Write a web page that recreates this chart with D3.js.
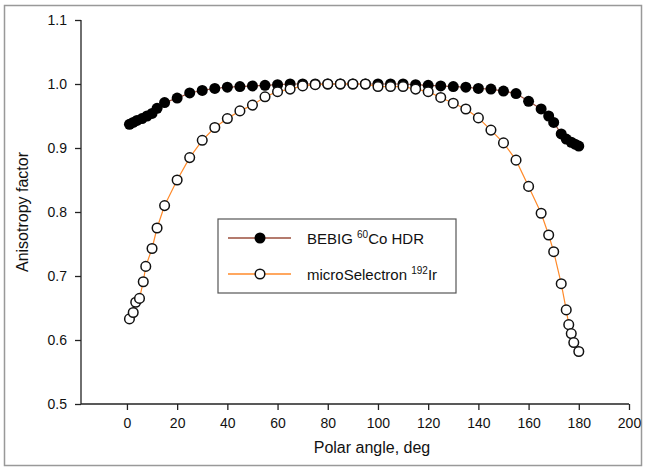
<!DOCTYPE html>
<html>
  <head>
    <meta charset="utf-8">
    <title>Anisotropy factor</title>
    <script src="https://d3js.org/d3.v7.min.js"></script>
    <style>
      body { margin: 0; background: #fff; }
      text { font-family: "Liberation Sans", Arial, sans-serif; fill: #111; }
    </style>
  </head>
  <body>
    <div id="chart"></div>
    <script>
      // BEBIG 60Co HDR (filled circles)
      var coAngles = [1, 2.5, 4, 6, 8, 10, 12, 15, 20, 25, 30, 35, 40, 45, 50, 55, 60, 65, 70, 75, 80, 85, 90,
        95, 100, 105, 110, 115, 120, 125, 130, 135, 140, 145, 150, 155, 160, 165, 168, 170, 173, 175, 177, 178.5, 180];
      var coValues = [0.937, 0.940, 0.943, 0.946, 0.950, 0.954, 0.962, 0.971, 0.978, 0.986, 0.990, 0.993, 0.995,
        0.996, 0.997, 0.998, 0.999, 1.0, 1.0, 1.0, 1.0, 1.0, 1.0, 1.0, 1.0, 1.0, 1.0, 0.999, 0.998, 0.997, 0.996,
        0.995, 0.993, 0.992, 0.989, 0.985, 0.973, 0.961, 0.950, 0.940, 0.922, 0.914, 0.909, 0.906, 0.903];

      // microSelectron 192Ir (open circles)
      var irAngles = [1, 2.5, 3.5, 5, 6.5, 7.5, 10, 12, 15, 20, 25, 30, 35, 40, 45, 50, 55, 60, 65, 70, 75, 80,
        85, 90, 95, 100, 105, 110, 115, 120, 125, 130, 135, 140, 145, 150, 155, 160, 165, 168, 170, 173, 175,
        176, 177, 178, 180];
      var irValues = [0.633, 0.643, 0.659, 0.665, 0.691, 0.715, 0.743, 0.775, 0.810, 0.850, 0.885, 0.912, 0.932,
        0.946, 0.958, 0.967, 0.980, 0.988, 0.992, 0.997, 0.999, 1.0, 1.0, 1.0, 1.0, 0.996, 0.996, 0.996, 0.992,
        0.988, 0.979, 0.970, 0.961, 0.947, 0.928, 0.908, 0.881, 0.840, 0.798, 0.764, 0.738, 0.688, 0.647,
        0.624, 0.610, 0.596, 0.582];

      var xTicks = [0, 20, 40, 60, 80, 100, 120, 140, 160, 180, 200];
      var yTicks = [0.5, 0.6, 0.7, 0.8, 0.9, 1.0, 1.1];

      var width = 645;
      var height = 467;
      var plotLeft = 81, plotRight = 629, plotTop = 20, plotBottom = 404;

      var x = d3.scaleLinear().domain([-18.3, 200]).range([plotLeft, plotRight]);
      var y = d3.scaleLinear().domain([0.5, 1.1]).range([plotBottom, plotTop]);

      var svg = d3.select('#chart')
        .append('svg')
        .attr('width', width)
        .attr('height', height);

      // outer frame
      svg.append('rect')
        .attr('x', 4.5).attr('y', 5.5)
        .attr('width', 637).attr('height', 460)
        .attr('fill', 'none')
        .attr('stroke', '#999')
        .attr('stroke-width', 1.5);

      var xAxis = d3.axisBottom(x).tickValues(xTicks).tickSize(6).tickPadding(8)
        .tickFormat(d3.format('d'));
      var yAxis = d3.axisLeft(y).tickValues(yTicks).tickSize(6).tickPadding(8)
        .tickFormat(d3.format('.1f'));

      var gx = svg.append('g')
        .attr('transform', 'translate(0,' + plotBottom + ')')
        .call(xAxis);
      gx.select('.domain').attr('d', 'M' + plotLeft + ',0H' + plotRight);

      var gy = svg.append('g')
        .attr('transform', 'translate(' + plotLeft + ',0)')
        .call(yAxis);
      gy.select('.domain').attr('d', 'M0,' + plotTop + 'V' + plotBottom);

      svg.selectAll('.domain, .tick line').attr('stroke', '#222').attr('stroke-width', 1.3);
      svg.selectAll('.tick text').style('font-size', '14px')
        .style('font-family', '"Liberation Sans", Arial, sans-serif').attr('fill', '#111');

      svg.append('text')
        .attr('x', (plotLeft + plotRight) / 2 + 17)
        .attr('y', 453)
        .attr('text-anchor', 'middle')
        .style('font-size', '16px')
        .text('Polar angle, deg');

      svg.append('text')
        .attr('transform', 'translate(28,212) rotate(-90)')
        .attr('text-anchor', 'middle')
        .style('font-size', '16px')
        .text('Anisotropy factor');

      var coData = coAngles.map(function(a, i) { return { a: a, v: coValues[i] }; });
      var irData = irAngles.map(function(a, i) { return { a: a, v: irValues[i] }; });

      var line = d3.line()
        .x(function(d) { return x(d.a); })
        .y(function(d) { return y(d.v); });

      var coColor = '#9b4f3c';
      var irColor = '#ff8a2a';

      svg.append('path').datum(coData)
        .attr('d', line).attr('fill', 'none')
        .attr('stroke', coColor).attr('stroke-width', 1.2);

      svg.selectAll('.co').data(coData).enter()
        .append('circle').attr('class', 'co')
        .attr('cx', function(d) { return x(d.a); })
        .attr('cy', function(d) { return y(d.v); })
        .attr('r', 5.5)
        .attr('fill', '#000');

      svg.append('path').datum(irData)
        .attr('d', line).attr('fill', 'none')
        .attr('stroke', irColor).attr('stroke-width', 1.2);

      svg.selectAll('.ir').data(irData).enter()
        .append('circle').attr('class', 'ir')
        .attr('cx', function(d) { return x(d.a); })
        .attr('cy', function(d) { return y(d.v); })
        .attr('r', 4.8)
        .attr('fill', '#fff')
        .attr('stroke', '#111')
        .attr('stroke-width', 1.5);

      // legend
      var legend = svg.append('g');
      legend.append('rect')
        .attr('x', 218).attr('y', 219)
        .attr('width', 238).attr('height', 74)
        .attr('fill', '#fff')
        .attr('stroke', '#555')
        .attr('stroke-width', 1.2);

      var items = [
        { color: coColor, fill: '#000', r: 5.5, sw: 0, y: 238, iso: '60', pre: 'BEBIG ', post: 'Co HDR' },
        { color: irColor, fill: '#fff', r: 4.8, sw: 1.5, y: 274, iso: '192', pre: 'microSelectron ', post: 'Ir' }
      ];

      items.forEach(function(it) {
        legend.append('line')
          .attr('x1', 228).attr('x2', 291)
          .attr('y1', it.y).attr('y2', it.y)
          .attr('stroke', it.color).attr('stroke-width', 1.4);
        legend.append('circle')
          .attr('cx', 260).attr('cy', it.y).attr('r', it.r)
          .attr('fill', it.fill)
          .attr('stroke', it.sw ? '#111' : 'none')
          .attr('stroke-width', it.sw);
        var t = legend.append('text')
          .attr('x', 307).attr('y', it.y + 6)
          .style('font-size', '15px');
        t.append('tspan').text(it.pre);
        t.append('tspan').attr('dy', -6).style('font-size', '10px').text(it.iso);
        t.append('tspan').attr('dy', 6).text(it.post);
      });
    </script>
  </body>
</html>
